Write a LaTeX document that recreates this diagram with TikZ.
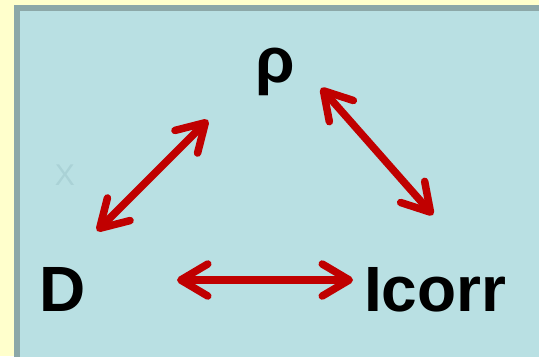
\documentclass[tikz,border=0pt]{standalone}
\usepackage{fontspec}
\setmainfont{Liberation Sans}
\usetikzlibrary{arrows.meta}
\definecolor{outerbg}{HTML}{FFFFCC}
\definecolor{innerbg}{HTML}{B9E0E3}
\definecolor{framec}{HTML}{8CA8A8}
\definecolor{arrowred}{HTML}{C00000}
\definecolor{faintx}{HTML}{AAD2D6}
\tikzset{
  lbl/.style={inner sep=0pt, anchor=base west, font=\bfseries\fontsize{64bp}{77bp}\selectfont},
  dbl/.style={draw=arrowred, line width=7.5bp,
    {Straight Barb[round, length=27bp, width=32bp]}-{Straight Barb[round, length=27bp, width=32bp]}},
}
\begin{document}
\begin{tikzpicture}[x=1bp,y=-1bp]
\useasboundingbox (0,0) rectangle (539,356);
\fill[outerbg] (0,0) rectangle (539,356);
\begin{scope}
\clip (0,0) rectangle (539,356);
\filldraw[fill=innerbg, draw=framec, line width=6bp] (17,8) rectangle (560,380);
\end{scope}
\node[inner sep=0pt, text=faintx, font=\fontsize{30bp}{36bp}\selectfont] (x) at (65,175) {X};
\node[lbl] (rho) at (255,82) {ρ};
\node[lbl] (D) at (39,311) {D};
\node[lbl] (I) at (364,311) {Icorr};
\coordinate (a1) at (97,231);
\coordinate (a2) at (208,120);
\coordinate (b1) at (321,88);
\coordinate (b2) at (433,215);
\coordinate (c1) at (177,280);
\coordinate (c2) at (353,280);
\draw[dbl] (a1) -- (a2);
\draw[dbl] (b1) -- (b2);
\draw[dbl] (c1) -- (c2);
\end{tikzpicture}
\end{document}
